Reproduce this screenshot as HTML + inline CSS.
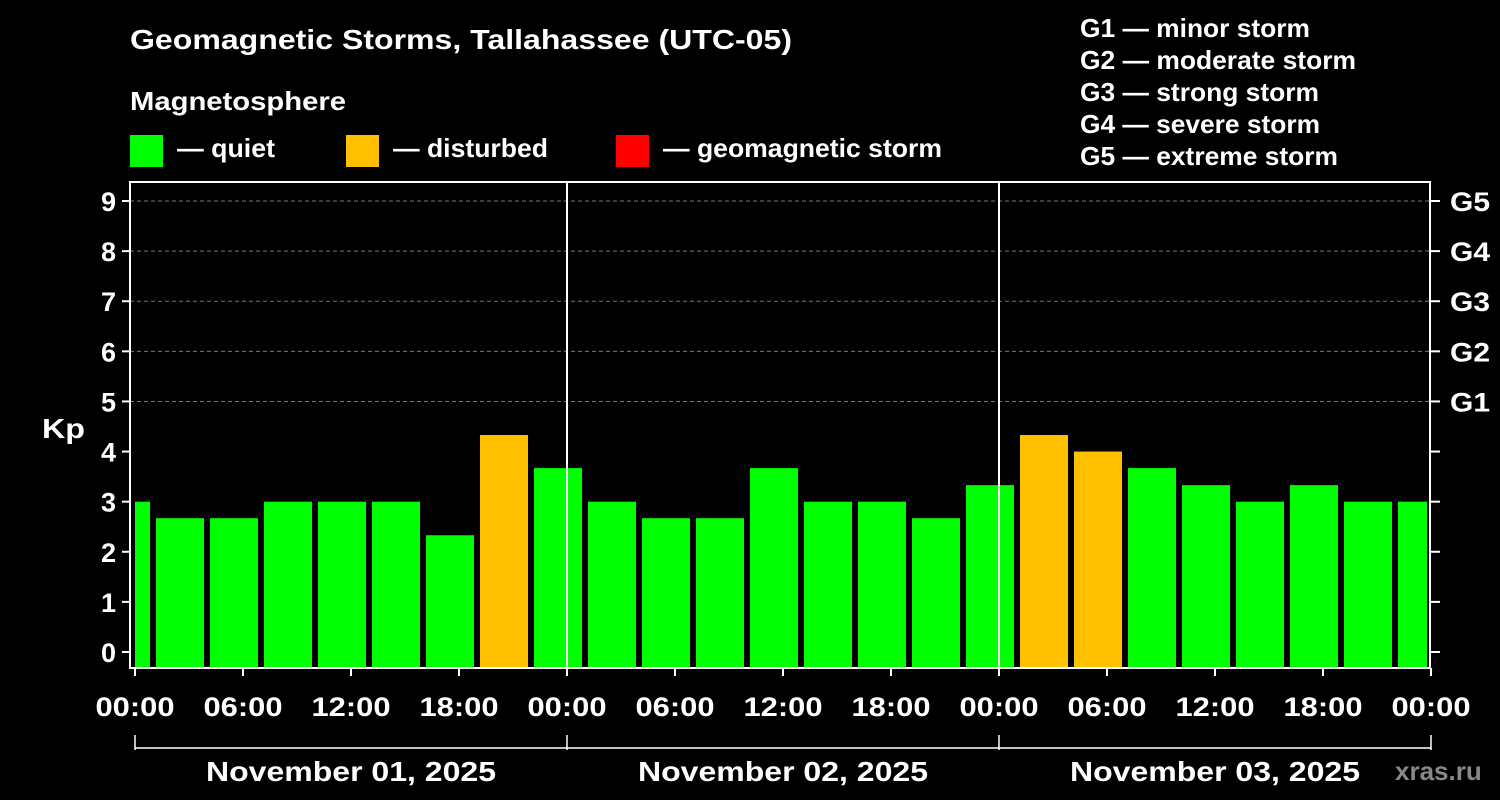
<!DOCTYPE html>
<html><head><meta charset="utf-8"><style>
body{margin:0;background:#000;}
svg{display:block;font-family:"Liberation Sans",Arial,sans-serif;font-weight:bold;}
</style></head><body>
<svg id="chart" width="1500" height="800" viewBox="0 0 1500 800">
<rect x="0" y="0" width="1500" height="800" fill="#000"/>
<text x="130" y="49" fill="#fff" font-size="28" textLength="662" lengthAdjust="spacingAndGlyphs">Geomagnetic Storms, Tallahassee (UTC-05)</text>
<text x="130" y="110" fill="#fff" font-size="26" textLength="216" lengthAdjust="spacingAndGlyphs">Magnetosphere</text>
<g><rect x="130" y="135" width="33" height="32" fill="#00ff00"/><text x="177" y="157" fill="#fff" font-size="26" textLength="98" lengthAdjust="spacingAndGlyphs">— quiet</text></g>
<g><rect x="346" y="135" width="33" height="32" fill="#ffc000"/><text x="393" y="157" fill="#fff" font-size="26" textLength="155" lengthAdjust="spacingAndGlyphs">— disturbed</text></g>
<g><rect x="616" y="135" width="33" height="32" fill="#ff0000"/><text x="663" y="157" fill="#fff" font-size="26" textLength="279" lengthAdjust="spacingAndGlyphs">— geomagnetic storm</text></g>
<g fill="#fff" font-size="26" lengthAdjust="spacingAndGlyphs">
<text x="1080" y="37" textLength="230" lengthAdjust="spacingAndGlyphs">G1 — minor storm</text>
<text x="1080" y="69" textLength="276" lengthAdjust="spacingAndGlyphs">G2 — moderate storm</text>
<text x="1080" y="101" textLength="239" lengthAdjust="spacingAndGlyphs">G3 — strong storm</text>
<text x="1080" y="133" textLength="240" lengthAdjust="spacingAndGlyphs">G4 — severe storm</text>
<text x="1080" y="165" textLength="258" lengthAdjust="spacingAndGlyphs">G5 — extreme storm</text>
</g>
<text x="42" y="438" fill="#fff" font-size="28" textLength="43" lengthAdjust="spacingAndGlyphs">Kp</text>
<text x="1395" y="780" fill="#888" font-size="26">xras.ru</text>
<g id="grid"></g><g id="bars"></g><g id="axes"></g>
</svg>
<script>
const kpValues=[3,2.67,2.67,3,3,3,2.33,4.33,3.67,3,2.67,2.67,3.67,3,3,2.67,3.33,4.33,4,3.67,3.33,3,3.33,3,3];
const barStartHours=[-2,1,4,7,10,13,16,19,22,25,28,31,34,37,40,43,46,49,52,55,58,61,64,67,70];
const yTicks=[0,1,2,3,4,5,6,7,8,9];
const gLabels=["G1","G2","G3","G4","G5"];
const xTickLabels=["00:00","06:00","12:00","18:00","00:00","06:00","12:00","18:00","00:00","06:00","12:00","18:00","00:00"];
const dayLabels=["November 01, 2025","November 02, 2025","November 03, 2025"];
const NS="http://www.w3.org/2000/svg";
const X0=135,PXH=18,PL=130,PR=1430,PT=182,PB=668;
const xs=h=>X0+h*PXH;
const ys=v=>652-v*(652-201)/9;
function mk(t,a,p){const e=document.createElementNS(NS,t);for(const k in a)e.setAttribute(k,a[k]);p.appendChild(e);return e;}
const grid=document.getElementById('grid'),bars=document.getElementById('bars'),axes=document.getElementById('axes');
yTicks.forEach(v=>{if(v>=5){const l=mk('line',{x1:PL,x2:PR,y1:ys(v),y2:ys(v),stroke:'#777','stroke-dasharray':'4,3'},grid);

}});
kpValues.forEach((v,i)=>{let x1=xs(barStartHours[i])+3,x2=xs(barStartHours[i]+3)-3;x1=Math.max(x1,PL+5);x2=Math.min(x2,PR-3);
const r=mk('rect',{x:x1,y:ys(v),width:x2-x1,height:PB-ys(v),fill:v>=5?'#ff0000':(v>=4?'#ffc000':'#00ff00')},bars);

});
mk('rect',{x:PL,y:PT,width:PR-PL,height:PB-PT,fill:'none',stroke:'#fff','stroke-width':2},axes);
[1,2].forEach(d=>{mk('line',{x1:xs(24*d),x2:xs(24*d),y1:PT,y2:PB,stroke:'#fff','stroke-width':2},axes);});
yTicks.forEach(v=>{const y=ys(v);mk('line',{x1:PL-8,x2:PL,y1:y,y2:y,stroke:'#fff','stroke-width':2},axes);
mk('line',{x1:PR,x2:PR+10,y1:y,y2:y,stroke:'#fff','stroke-width':2},axes);
const t=mk('text',{x:PL-14,y:y+10,fill:'#fff','font-size':27,'text-anchor':'end'},axes);t.textContent=v;

});
gLabels.forEach((g,i)=>{const t=mk('text',{x:1450,y:ys(5+i)+10,fill:'#fff','font-size':27,textLength:40,lengthAdjust:'spacingAndGlyphs'},axes);t.textContent=g;

});
xTickLabels.forEach((s,i)=>{const x=xs(i*6);mk('line',{x1:x,x2:x,y1:PB,y2:PB+8,stroke:'#fff','stroke-width':2},axes);
const t=mk('text',{x:x,y:716,fill:'#fff','font-size':27,'text-anchor':'middle',textLength:79,lengthAdjust:'spacingAndGlyphs'},axes);t.textContent=s;

});
mk('line',{x1:xs(0),x2:xs(72),y1:748,y2:748,stroke:'#fff','stroke-width':1.5},axes);
[0,1,2,3].forEach(d=>mk('line',{x1:xs(24*d),x2:xs(24*d),y1:735,y2:750,stroke:'#fff','stroke-width':1.5},axes));
dayLabels.forEach((s,i)=>{const t=mk('text',{x:xs(24*i+12),y:781,fill:'#fff','font-size':28,'text-anchor':'middle',textLength:290,lengthAdjust:'spacingAndGlyphs'},axes);t.textContent=s;

});
</script>
</body></html>
